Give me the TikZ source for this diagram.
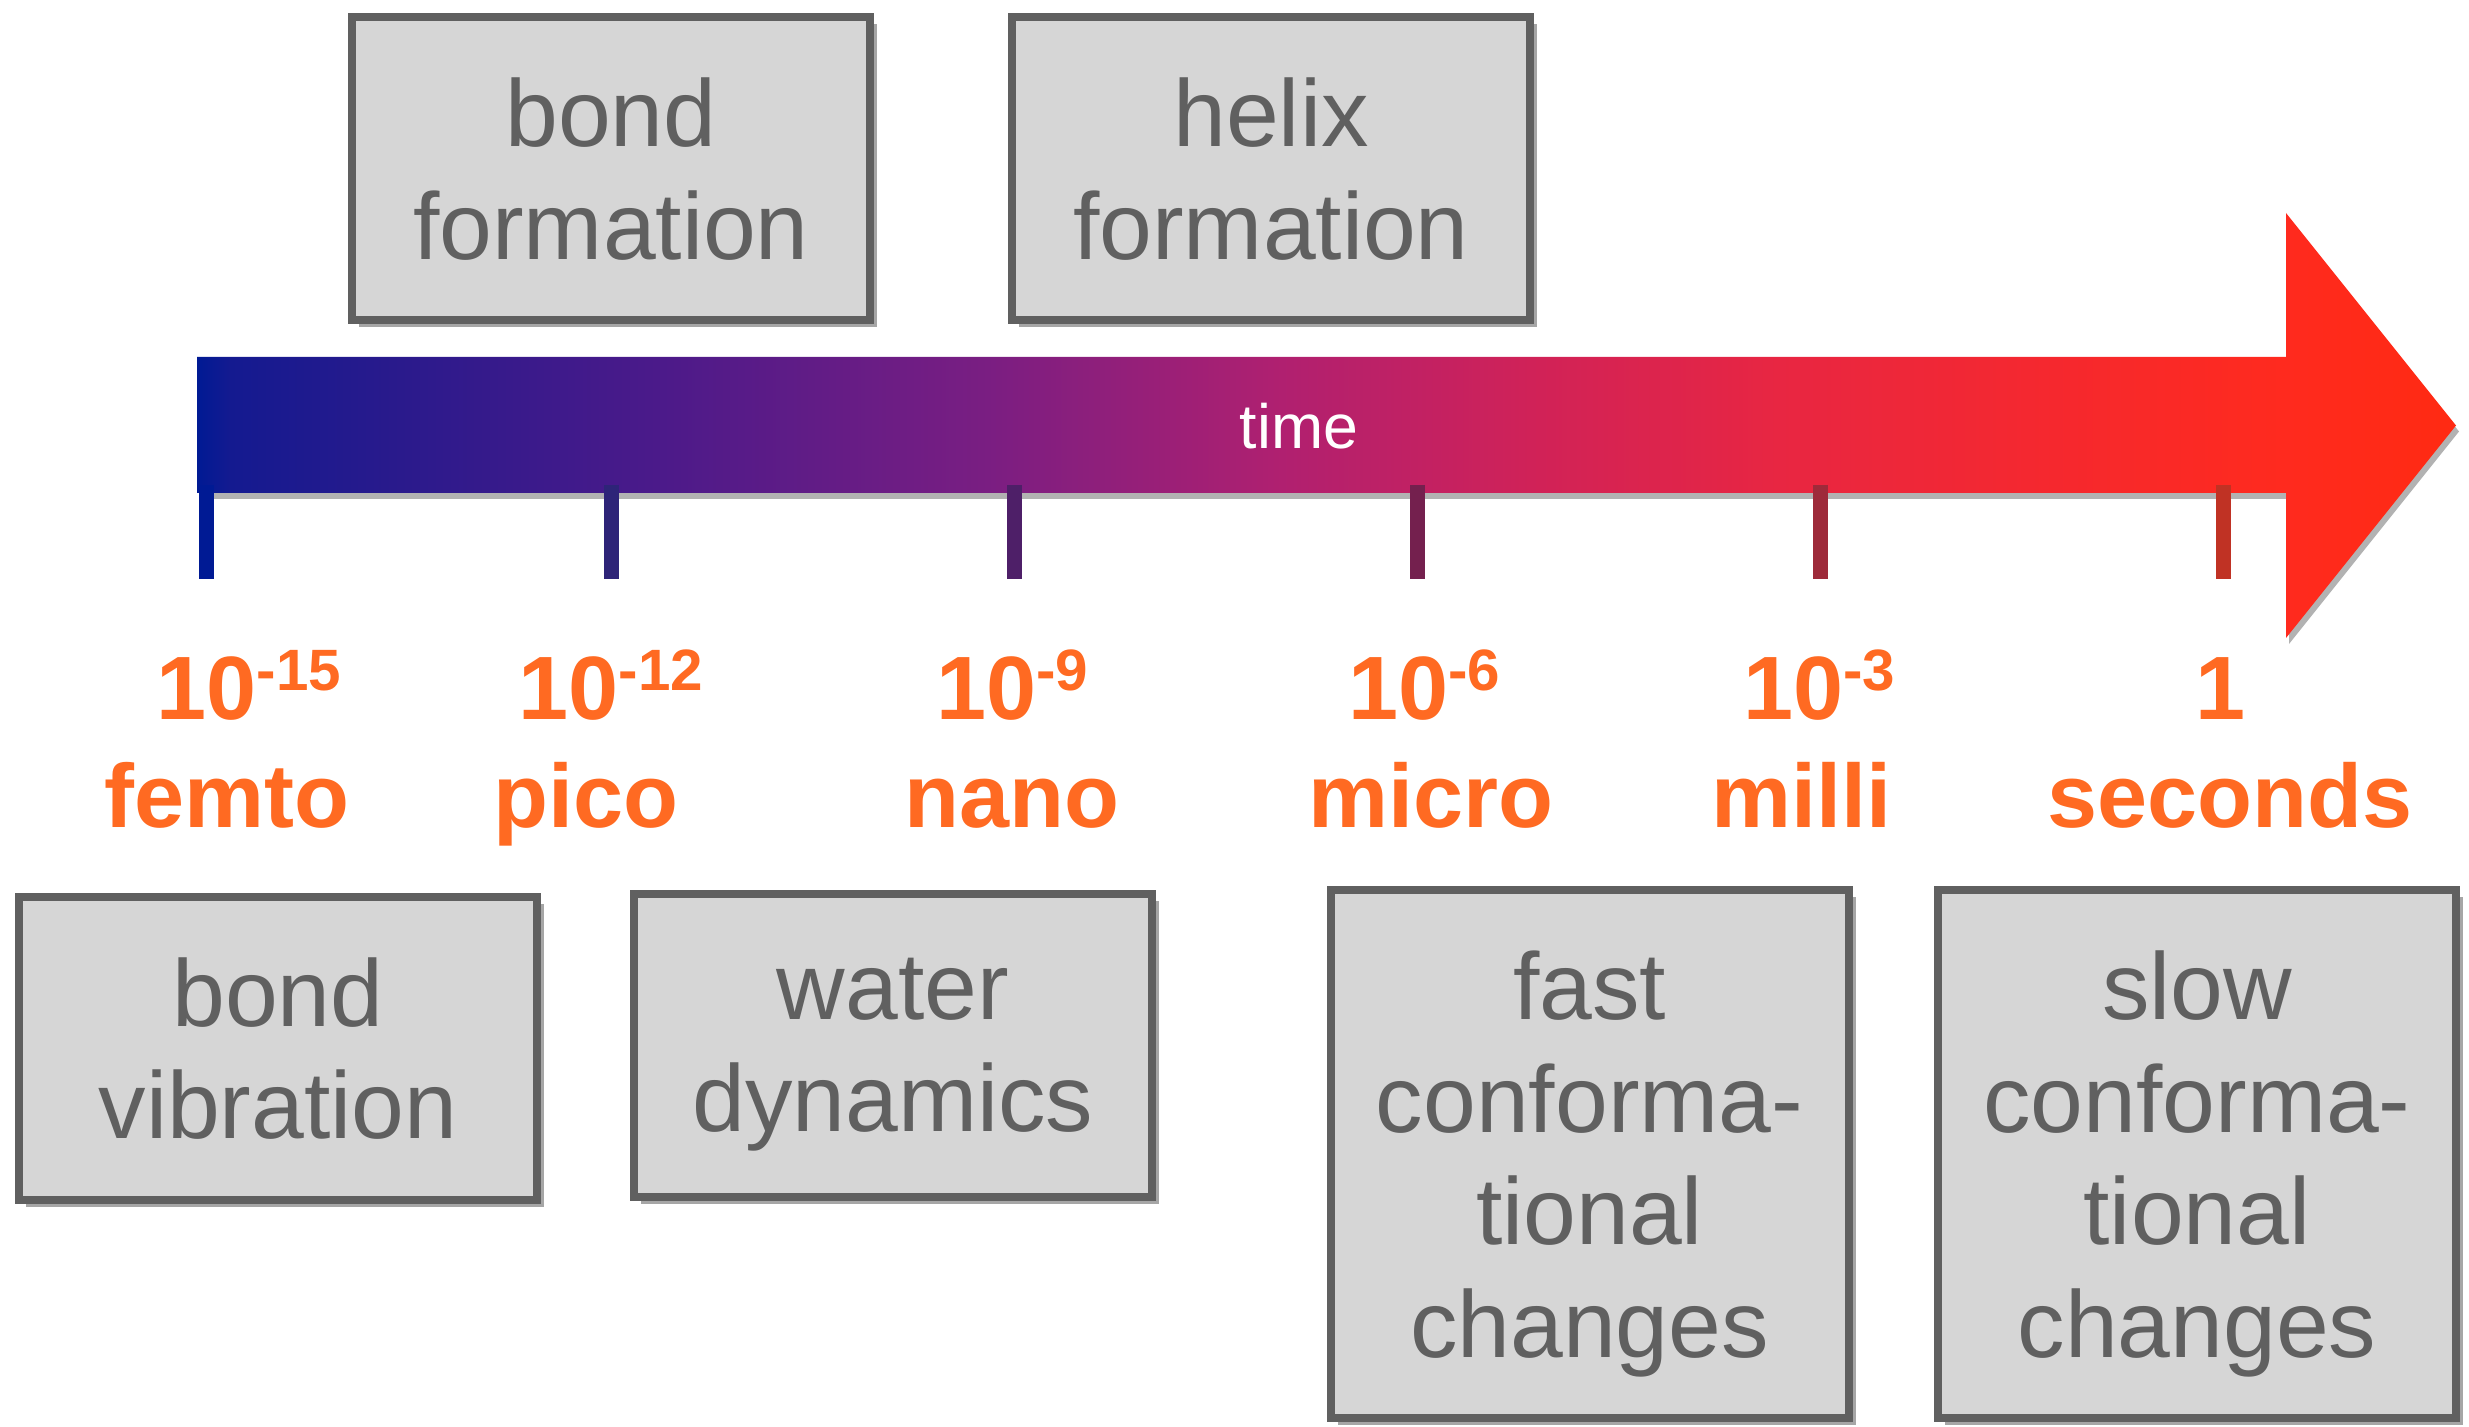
\documentclass[tikz,border=0pt]{standalone}
\usepackage{fontspec}
\setmainfont{Liberation Sans}
\usetikzlibrary{shadows}
\definecolor{boxgray}{RGB}{96,96,96}
\definecolor{boxfill}{RGB}{214,214,214}
\definecolor{scaleorange}{RGB}{255,106,34}
% tick colours, left to right
\definecolor{tickA}{RGB}{0,26,148}
\definecolor{tickB}{RGB}{46,36,120}
\definecolor{tickC}{RGB}{78,31,104}
\definecolor{tickD}{RGB}{116,32,78}
\definecolor{tickE}{RGB}{158,42,58}
\definecolor{tickF}{RGB}{192,50,36}
% shading stops for the time arrow
\definecolor{tsA}{RGB}{0,26,148}
\definecolor{tsB}{RGB}{20,26,144}
\definecolor{tsC}{RGB}{42,26,140}
\definecolor{tsD}{RGB}{74,26,138}
\definecolor{tsE}{RGB}{122,30,130}
\definecolor{tsF}{RGB}{176,32,112}
\definecolor{tsG}{RGB}{208,34,88}
\definecolor{tsH}{RGB}{232,38,66}
\definecolor{tsI}{RGB}{244,40,48}
\definecolor{tsJ}{RGB}{255,42,30}
\definecolor{tsK}{RGB}{255,42,18}
\pgfdeclarehorizontalshading{timeshade}{100bp}{color(0bp)=(tsA); color(25bp)=(tsA);
  color(25.75bp)=(tsB); color(29.5bp)=(tsC); color(35bp)=(tsD); color(42.5bp)=(tsE);
  color(49bp)=(tsF); color(54.5bp)=(tsG); color(60bp)=(tsH); color(65.5bp)=(tsI);
  color(71.25bp)=(tsJ); color(75bp)=(tsK); color(100bp)=(tsK)}
\tikzstyle{stagebox} = [draw=boxgray, fill=boxfill, line width=0.08cm, inner sep=0pt,
  minimum width=5.18cm, minimum height=3.03cm, align=center, text=boxgray,
  text depth=0pt, font=\fontsize{27}{32}\selectfont,
  drop shadow={shadow xshift=0.07cm, shadow yshift=-0.07cm, opacity=0.35, fill=black}]
\tikzstyle{powerlabel} = [anchor=base, inner sep=0pt, text=scaleorange, font=\fontsize{25.6}{30}\selectfont\bfseries]
\tikzstyle{scaletick} = [line width=0.15cm]
\newcommand{\powten}[1]{10\raisebox{8.5pt}{\fontsize{16.6}{17}\selectfont #1}}

\begin{document}
\begin{tikzpicture}
    \useasboundingbox (0,0) rectangle (24.69,-14.27);

    % Time arrow
    \path[shading=timeshade, drop shadow={shadow xshift=0.03cm, shadow yshift=-0.06cm, opacity=0.3, fill=black}]
        (1.97,-3.57) -- (22.86,-3.57) -- (22.86,-2.13) -- (24.56,-4.255)
        -- (22.86,-6.38) -- (22.86,-4.93) -- (1.97,-4.93) -- cycle;
    \node (timelabel) [anchor=base, inner sep=0pt, text=white, font=\fontsize{17.8}{20}\selectfont] at (12.99,-4.49) {time};

    % Ticks
    \draw[scaletick, tickA] (2.06,-4.85) -- (2.06,-5.79);
    \draw[scaletick, tickB] (6.11,-4.85) -- (6.11,-5.79);
    \draw[scaletick, tickC] (10.14,-4.85) -- (10.14,-5.79);
    \draw[scaletick, tickD] (14.17,-4.85) -- (14.17,-5.79);
    \draw[scaletick, tickE] (18.20,-4.85) -- (18.20,-5.79);
    \draw[scaletick, tickF] (22.23,-4.85) -- (22.23,-5.79);

    % Powers of ten
    \node (pfemto) [powerlabel] at (2.49,-7.20) {\powten{-15}};
    \node (ppico)  [powerlabel] at (6.11,-7.20) {\powten{-12}};
    \node (pnano)  [powerlabel] at (10.12,-7.20) {\powten{-9}};
    \node (pmicro) [powerlabel] at (14.24,-7.20) {\powten{-6}};
    \node (pmilli) [powerlabel] at (18.19,-7.20) {\powten{-3}};
    \node (pone)   [powerlabel] at (22.20,-7.20) {1};

    % Prefixes
    \node (femto)   [powerlabel] at (2.27,-8.27) {femto};
    \node (pico)    [powerlabel] at (5.86,-8.27) {pico};
    \node (nano)    [powerlabel] at (10.12,-8.27) {nano};
    \node (micro)   [powerlabel] at (14.31,-8.27) {micro};
    \node (milli)   [powerlabel] at (18.01,-8.27) {milli};
    \node (seconds) [powerlabel] at (22.30,-8.27) {seconds};

    % Processes above the arrow
    \node (bondform)  [stagebox] at (6.11,-1.685) {bond\\formation};
    \node (helixform) [stagebox] at (12.71,-1.685) {helix\\formation};

    % Processes below the arrow
    \node (bondvib)  [stagebox] at (2.78,-10.48) {bond\\vibration};
    \node (waterdyn) [stagebox] at (8.93,-10.45) {water\\dynamics};
    \node (fastconf) [stagebox, minimum height=5.28cm] at (15.895,-11.54) {fast\\conforma-\\tional\\changes};
    \node (slowconf) [stagebox, minimum height=5.28cm] at (21.97,-11.54) {slow\\conforma-\\tional\\changes};
\end{tikzpicture}
\end{document}
